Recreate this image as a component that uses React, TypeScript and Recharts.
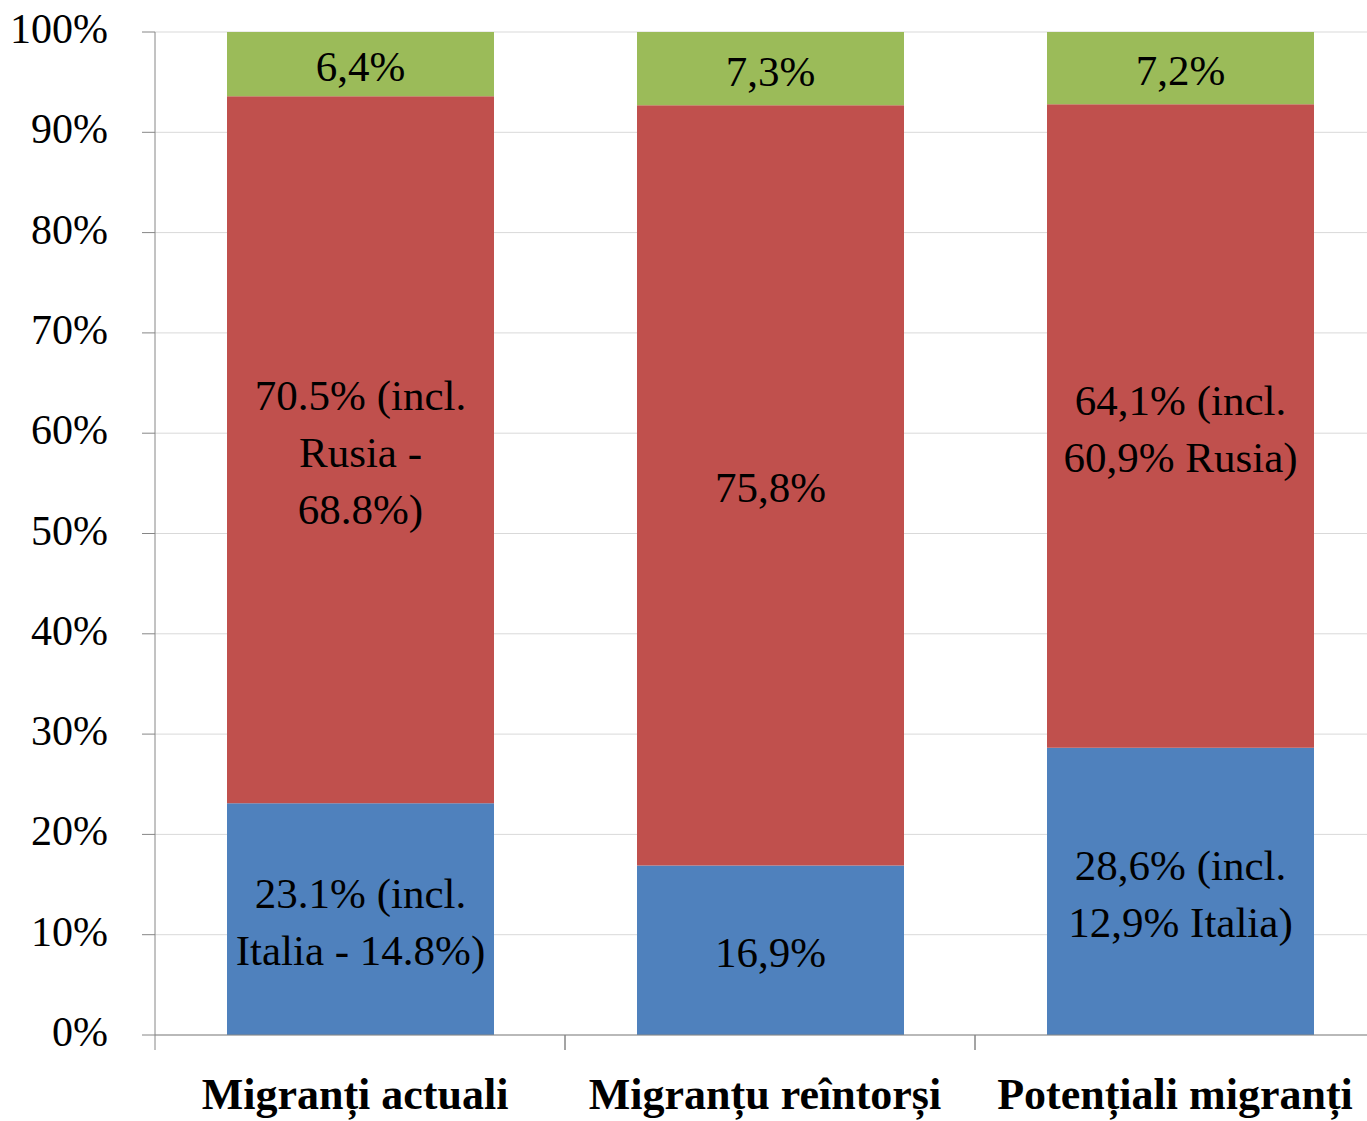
import React from 'react';
import { BarChart, Bar, XAxis, YAxis, CartesianGrid, LabelList } from 'recharts';

const categories = ['Migranți actuali', 'Migranțu reîntorși', 'Potențiali migranți'];
const euValues = [23.1, 16.9, 28.6];
const cisValues = [70.5, 75.8, 64.1];
const otherValues = [6.4, 7.3, 7.2];

const euLabels = [['23.1% (incl.', 'Italia - 14.8%)'], ['16,9%'], ['28,6% (incl.', '12,9% Italia)']];
const cisLabels = [['70.5% (incl.', 'Rusia -', '68.8%)'], ['75,8%'], ['64,1% (incl.', '60,9% Rusia)']];
const otherLabels = [['6,4%'], ['7,3%'], ['7,2%']];

const yTicks = [0, 0.1, 0.2, 0.3, 0.4, 0.5, 0.6, 0.7, 0.8, 0.9, 1];

const FONT = "'Liberation Serif', 'DejaVu Serif', serif";
const AXIS = '#868686';
const CHART_W = 1385;
const Y_AXIS_W = 155;
const HALF_BAND = (CHART_W - Y_AXIS_W) / categories.length / 2;

const data = categories.map((name, i) => ({
  name,
  eu: euValues[i],
  cis: cisValues[i],
  other: otherValues[i],
}));

function segmentLabel(lines: string[][]) {
  return (props: any) => {
    const vb = props.viewBox || props;
    const { x, y, width, height } = vb;
    const rows = lines[props.index] || [];
    const cx = x + width / 2;
    const cy = y + height / 2 + 2;
    const lh = 57;
    const start = cy - ((rows.length - 1) * lh) / 2;
    return (
      <text textAnchor="middle" dominantBaseline="central" fontFamily={FONT} fontSize={43} fill="#000">
        {rows.map((r, i) => (
          <tspan key={i} x={cx} y={start + i * lh}>{r}</tspan>
        ))}
      </text>
    );
  };
}

function CategoryTick(props: any) {
  const { x, y, payload } = props;
  return (
    <g>
      <line x1={x - HALF_BAND} x2={x - HALF_BAND} y1={y} y2={y + 15} stroke={AXIS} />
      <line x1={x + HALF_BAND} x2={x + HALF_BAND} y1={y} y2={y + 15} stroke={AXIS} />
      <text x={x - 5} y={y + 74} textAnchor="middle" fontFamily={FONT} fontSize={44} fontWeight="bold" fill="#000">
        {payload.value}
      </text>
    </g>
  );
}

function ValueTick(props: any) {
  const { x, y, payload } = props;
  return (
    <text x={x} y={y - 3} textAnchor="end" dominantBaseline="central" fontFamily={FONT} fontSize={42} fill="#000">
      {`${Math.round(payload.value * 100)}%`}
    </text>
  );
}

export default function App() {
  return (
    <div style={{ position: 'absolute', left: 0, top: 0, width: 1367, height: 1121, overflow: 'hidden', background: '#fff' }}>
      <BarChart
        width={CHART_W}
        height={1121}
        data={data}
        stackOffset="expand"
        margin={{ top: 32, right: 0, left: 0, bottom: 0 }}
      >
        <CartesianGrid vertical={false} stroke="#d9d9d9" />
        <XAxis
          dataKey="name"
          height={86}
          stroke={AXIS}
          tickLine={false}
          tickSize={0}
          tickMargin={0}
          tick={<CategoryTick />}
          interval={0}
        />
        <YAxis
          width={Y_AXIS_W}
          domain={[0, 1]}
          ticks={yTicks}
          stroke={AXIS}
          tickSize={13}
          tickMargin={34}
          tick={<ValueTick />}
        />
        <Bar dataKey="eu" stackId="a" fill="#4F81BD" barSize={267} isAnimationActive={false}>
          <LabelList dataKey="eu" content={segmentLabel(euLabels)} />
        </Bar>
        <Bar dataKey="cis" stackId="a" fill="#C0504D" barSize={267} isAnimationActive={false}>
          <LabelList dataKey="cis" content={segmentLabel(cisLabels)} />
        </Bar>
        <Bar dataKey="other" stackId="a" fill="#9BBB59" barSize={267} isAnimationActive={false}>
          <LabelList dataKey="other" content={segmentLabel(otherLabels)} />
        </Bar>
      </BarChart>
    </div>
  );
}
